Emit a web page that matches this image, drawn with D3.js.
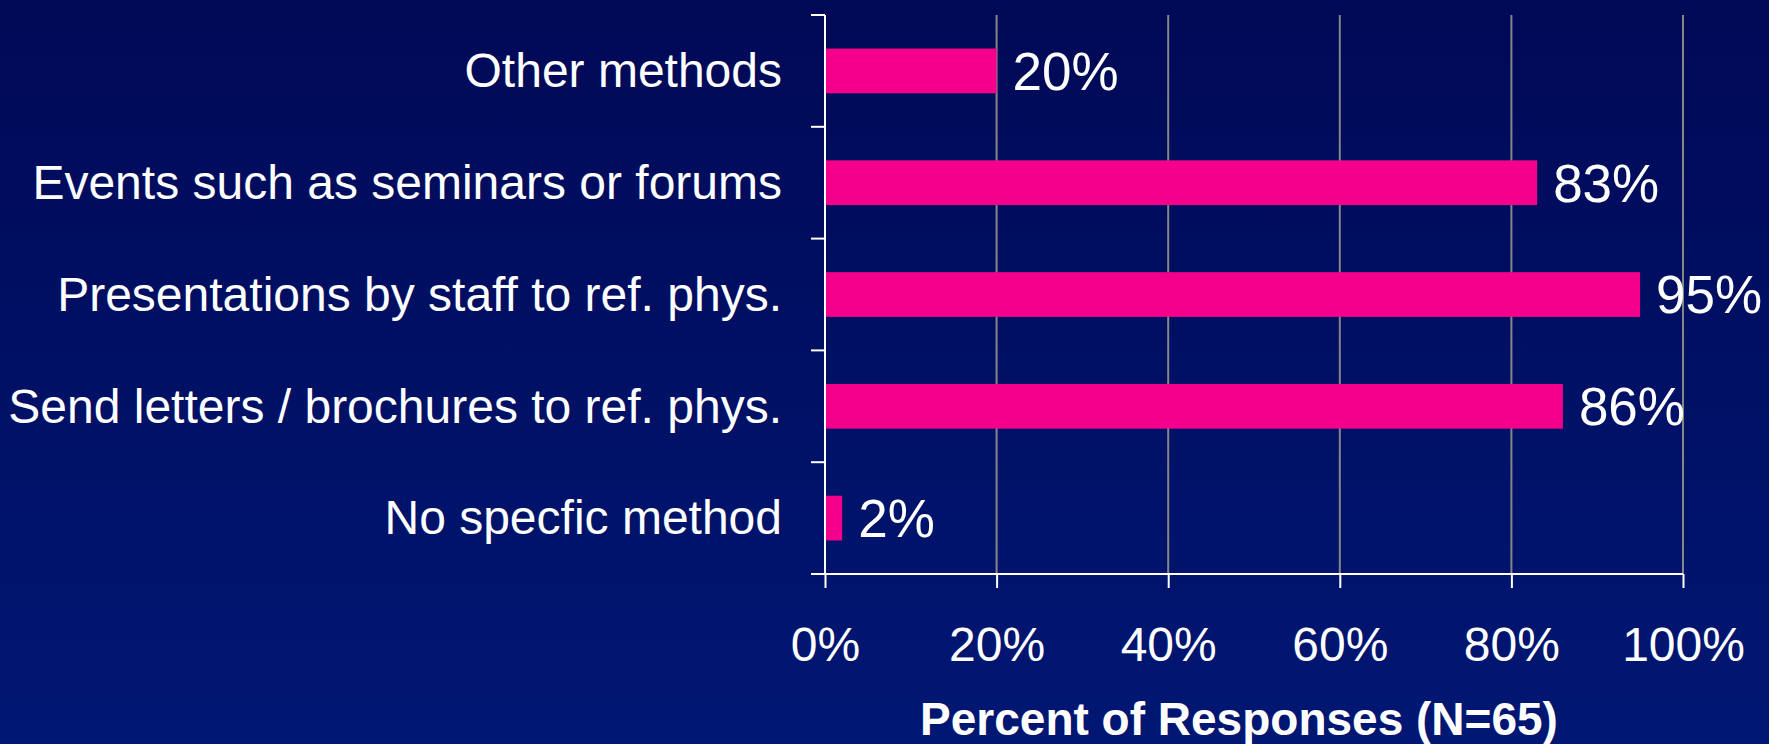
<!DOCTYPE html>
<html>
<head>
<meta charset="utf-8">
<script src="https://cdn.jsdelivr.net/npm/d3@7"></script>
<style>
  html, body { margin: 0; padding: 0; overflow: hidden; }
  svg { display: block; font-family: Arial, "Liberation Sans", sans-serif; }
</style>
</head>
<body>
<script>
//Width and height
var width = 1769;
var height = 744;

//Data
var categories = ["Other methods", "Events such as seminars or forums", "Presentations by staff to ref. phys.", "Send letters / brochures to ref. phys.", "No specfic method"];
var values = [20, 83, 95, 86, 2];
var tickValues = [0, 20, 40, 60, 80, 100];
var axisTitle = "Percent of Responses (N=65)";

var margin = {top: 15, left: 825, right: 86, bottom: 170};
var plotW = width - margin.left - margin.right;
var plotH = height - margin.top - margin.bottom;

//Create SVG element
var svg = d3.select("body")
			.append("svg")
			.attr("width", width)
			.attr("height", height);

//background gradient
var grad = svg.append("defs").append("linearGradient")
	.attr("id", "bg")
	.attr("x1", 0).attr("y1", 0).attr("x2", 0).attr("y2", 1);
grad.append("stop").attr("offset", "0%").attr("stop-color", "#000956");
grad.append("stop").attr("offset", "100%").attr("stop-color", "#001773");

svg.append("rect")
	.attr("width", width)
	.attr("height", height)
	.attr("fill", "url(#bg)");

var g = svg.append("g")
	.attr("transform", "translate(" + margin.left + "," + margin.top + ")");

var x = d3.scaleLinear()
	.domain([0, 100])
	.range([0, plotW]);

var y = d3.scaleBand()
	.domain(categories)
	.range([0, plotH])
	.paddingInner(0.6)
	.paddingOuter(0.3);

//gridlines
g.selectAll("line.grid")
	.data(tickValues.slice(1))
	.enter()
	.append("line")
	.attr("class", "grid")
	.attr("x1", function(d) { return x(d); })
	.attr("x2", function(d) { return x(d); })
	.attr("y1", 0)
	.attr("y2", plotH)
	.attr("stroke", "#868686")
	.attr("stroke-width", 2);

//bars
g.selectAll("rect.bar")
	.data(values)
	.enter()
	.append("rect")
	.attr("class", "bar")
	.attr("x", x(0))
	.attr("y", function(d, i) { return y(categories[i]); })
	.attr("width", function(d) { return x(d) - x(0); })
	.attr("height", y.bandwidth())
	.attr("fill", "#f5008c");

//value labels
g.selectAll("text.val")
	.data(values)
	.enter()
	.append("text")
	.attr("class", "val")
	.attr("x", function(d) { return x(d) + 16; })
	.attr("y", function(d, i) { return y(categories[i]) + y.bandwidth() / 2; })
	.attr("dy", "0.355em")
	.attr("fill", "#ffffff")
	.style("font-size", "53px")
	.text(function(d) { return d + "%"; });

//category labels
g.selectAll("text.cat")
	.data(categories)
	.enter()
	.append("text")
	.attr("class", "cat")
	.attr("x", -43)
	.attr("y", function(d) { return y(d) + y.bandwidth() / 2; })
	.attr("dy", "0.34em")
	.attr("text-anchor", "end")
	.attr("fill", "#ffffff")
	.style("font-size", "48px")
	.text(function(d) { return d; });

//y axis line and tick marks between categories
var step = y.step();
var boundaries = categories.map(function(d) { return y(d) - step * y.paddingInner() / 2; });
boundaries.push(plotH);

g.append("line")
	.attr("x1", 0).attr("x2", 0)
	.attr("y1", 0).attr("y2", plotH)
	.attr("stroke", "#ffffff")
	.attr("stroke-width", 2);

g.selectAll("line.ytick")
	.data(boundaries)
	.enter()
	.append("line")
	.attr("class", "ytick")
	.attr("x1", -14).attr("x2", 0)
	.attr("y1", function(d) { return d; })
	.attr("y2", function(d) { return d; })
	.attr("stroke", "#ffffff")
	.attr("stroke-width", 2);

//x axis
var xAxis = d3.axisBottom(x)
	.tickValues(tickValues)
	.tickSize(14)
	.tickPadding(39)
	.tickFormat(function(d) { return d + "%"; });

var xg = g.append("g")
	.attr("transform", "translate(0," + plotH + ")")
	.call(xAxis);

xg.select(".domain")
	.attr("d", "M-14,0H" + plotW)
	.attr("stroke", "#ffffff")
	.attr("stroke-width", 2);
xg.selectAll(".tick line")
	.attr("stroke", "#ffffff")
	.attr("stroke-width", 2);
xg.selectAll(".tick text")
	.attr("fill", "#ffffff")
	.style("font-size", "48px")
	.style("font-family", "Arial, 'Liberation Sans', sans-serif");

//axis title
svg.append("text")
	.attr("x", margin.left + plotW / 2 - 15)
	.attr("y", 735)
	.attr("text-anchor", "middle")
	.attr("fill", "#ffffff")
	.style("font-size", "46px")
	.style("font-weight", "bold")
	.text(axisTitle);
</script>
</body>
</html>
